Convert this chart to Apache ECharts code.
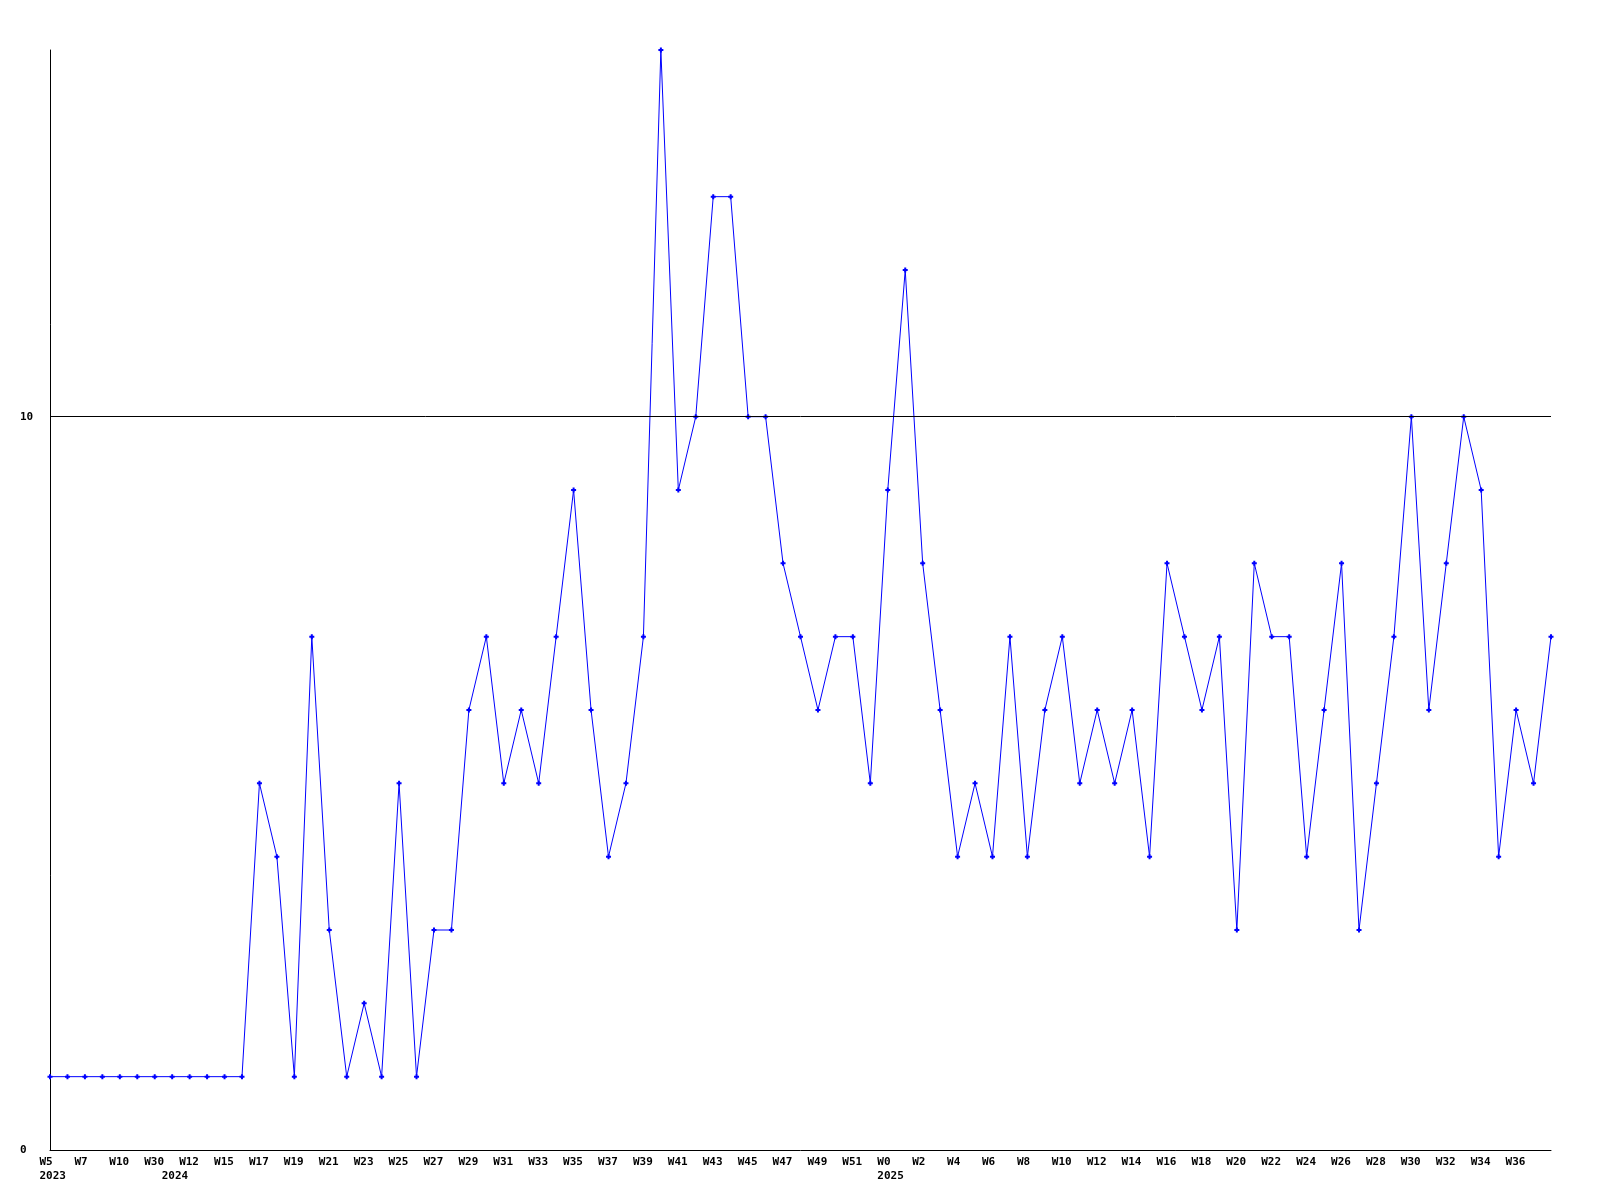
<!DOCTYPE html>
<html>
<head>
<meta charset="utf-8">
<script src="https://cdn.jsdelivr.net/npm/echarts@6/dist/echarts.min.js"></script>
<style>html,body{margin:0;padding:0;background:#fff;}#c{width:1600px;height:1200px;}</style>
</head>
<body>
<div id="c"></div>
<script>
// Tick labels shown on every other point (point index = 2 * list index)
const tickLabels = ['W5','W7','W10','W30','W12','W15','W17','W19','W21','W23','W25','W27','W29','W31','W33','W35','W37','W39','W41','W43','W45','W47','W49','W51','W0','W2','W4','W6','W8','W10','W12','W14','W16','W18','W20','W22','W24','W26','W28','W30','W32','W34','W36'];
// Year markers: point index -> year
const yearMarks = {0: '2023', 7: '2024', 48: '2025'};
// Values for each weekly point
const values = [1,1,1,1,1,1,1,1,1,1,1,1,5,4,1,7,3,1,2,1,5,1,3,3,6,7,5,6,5,7,9,6,4,5,7,15,9,10,13,13,10,10,8,7,6,7,7,5,9,12,8,6,4,5,4,7,4,6,7,5,6,5,6,4,8,7,6,7,3,8,7,7,4,6,8,3,5,7,10,6,8,10,9,4,6,5,7];
const refLine = 10;

const categories = [];
for (let i = 0; i < values.length; i++) categories.push('p' + i);

const font = '"DejaVu Sans Mono", monospace';
const chart = echarts.init(document.getElementById('c'), null, {renderer: 'canvas'});
chart.setOption({
  animation: false,
  backgroundColor: '#ffffff',
  grid: {left: 50, right: 49, top: 50, bottom: 50, containLabel: false},
  xAxis: {
    type: 'category',
    data: categories,
    boundaryGap: false,
    axisLine: {lineStyle: {color: '#000', width: 1}},
    axisTick: {show: false},
    splitLine: {show: false},
    axisLabel: {
      interval: 0,
      margin: 5,
      hideOverlap: false,
      formatter: function (v, idx) {
        const t = (idx % 2 === 0 && tickLabels[idx / 2] !== undefined) ? tickLabels[idx / 2] : '';
        const y = yearMarks[idx];
        if (y !== undefined) return '{a|' + t + '}\n{a|' + y + '}';
        return t ? '{a|' + t + '}' : '';
      },
      rich: {
        a: {width: 21, align: 'left', fontFamily: font, fontWeight: 'bold', fontSize: 11, color: '#000', lineHeight: 14}
      }
    }
  },
  yAxis: {
    type: 'value',
    min: 0,
    max: 15,
    interval: 10,
    axisLine: {show: true, lineStyle: {color: '#000', width: 1}},
    axisTick: {show: false},
    splitLine: {show: false},
    axisLabel: {
      align: 'left',
      margin: 30,
      fontFamily: font,
      fontWeight: 'bold',
      fontSize: 11,
      color: '#000',
      formatter: function (v) { return (v % 10 === 0) ? String(v) : ''; }
    }
  },
  series: [{
    type: 'line',
    data: values,
    symbol: 'path://M1.5,0H3.5V1.5H5V3.5H3.5V5H1.5V3.5H0V1.5H1.5Z',
    symbolSize: 5,
    showAllSymbol: true,
    itemStyle: {color: '#0000ff'},
    lineStyle: {color: '#0000ff', width: 1},
    markLine: {
      silent: true,
      symbol: ['none', 'none'],
      label: {show: false},
      lineStyle: {color: '#000', width: 1, type: 'solid'},
      data: [{yAxis: refLine}]
    }
  }]
});
</script>
</body>
</html>
